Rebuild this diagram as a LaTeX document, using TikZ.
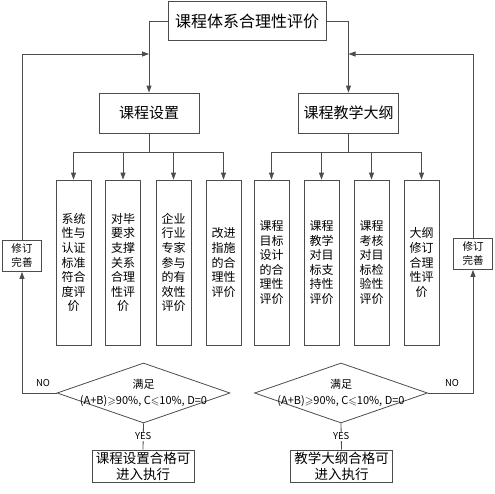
\documentclass[tikz,border=0pt]{standalone}
\usepackage{fontspec}
\usepackage{amssymb}
\newfontfamily\cjk{Noto Sans CJK SC}
\usetikzlibrary{positioning, arrows.meta, shapes.geometric}
\definecolor{linecol}{rgb}{0.30, 0.30, 0.30}
\tikzset{
  box/.style={rectangle, draw=linecol, line width=0.8pt, inner sep=0pt,
              align=center, text=black},
  main box/.style={box, minimum width=158pt, minimum height=39pt,
                   font=\cjk\fontsize{16}{19}\selectfont},
  sub box/.style={box, minimum width=100pt, minimum height=40pt,
                  font=\cjk\fontsize{15}{18}\selectfont},
  item box/.style={box, minimum width=35pt, minimum height=165pt,
                   font=\cjk\fontsize{12}{14.6}\selectfont},
  revise box/.style={box, minimum width=39pt, minimum height=31pt,
                     font=\cjk\fontsize{10.5}{14}\selectfont},
  done box/.style={box, minimum width=102pt, minimum height=32pt,
                   font=\cjk\fontsize{13.5}{16}\selectfont},
  check/.style={diamond, draw=linecol, line width=0.8pt, inner sep=0pt,
                minimum width=173pt, minimum height=60pt},
  cond text/.style={font=\cjk\fontsize{11}{16}\selectfont, align=center,
                    inner sep=0pt},
  tag/.style={font=\cjk\fontsize{9.5}{11}\selectfont, inner sep=1pt},
  line/.style={draw=linecol, line width=0.8pt},
  arr/.style={line, -{Triangle[length=7pt, width=5pt]}},
}
\begin{document}
\begin{tikzpicture}[x=1pt, y=-1pt]
    \useasboundingbox (0,0) rectangle (495,493);

    % top level
    \node[main box] (title) at (247,21) {课程体系合理性评价};
    \node[sub box] (sub_l) at (149,113) {课程设置};
    \node[sub box] (sub_r) at (348.5,113) {课程教学大纲};
    \draw[arr] (title.west) -| (sub_l.north);
    \draw[arr] (title.east) -| (sub_r.north);

    % items of the course setting
    \node[item box] (item_1) at (73.5,262.5) {系统\\性与\\认证\\标准\\符合\\度评\\价};
    \node[item box] (item_2) at (123,262.5) {对毕\\要求\\支撑\\关系\\合理\\性评\\价};
    \node[item box] (item_3) at (173.5,262.5) {企业\\行业\\专家\\参与\\的有\\效性\\评价};
    \node[item box] (item_4) at (223.5,262.5) {改进\\指施\\的合\\理性\\评价};

    % items of the syllabus
    \node[item box] (item_5) at (271.5,262.5) {课程\\目标\\设计\\的合\\理性\\评价};
    \node[item box] (item_6) at (321.5,262.5) {课程\\教学\\对目\\标支\\持性\\评价};
    \node[item box] (item_7) at (371.5,262.5) {课程\\考核\\对目\\标检\\验性\\评价};
    \node[item box] (item_8) at (421.5,262.5) {大纲\\修订\\合理\\性评\\价};

    % bus lines
    \coordinate (bus_l) at (149,152);
    \coordinate (bus_r) at (348.5,152);
    \draw[line] (sub_l.south) -- (bus_l);
    \draw[line] (sub_r.south) -- (bus_r);
    \draw[line] (item_1.north |- bus_l) -- (item_4.north |- bus_l);
    \draw[line] (item_5.north |- bus_r) -- (item_8.north |- bus_r);
    \draw[arr] (item_1.north |- bus_l) -- (item_1.north);
    \draw[arr] (item_2.north |- bus_l) -- (item_2.north);
    \draw[arr] (item_3.north |- bus_l) -- (item_3.north);
    \draw[arr] (item_4.north |- bus_l) -- (item_4.north);
    \draw[arr] (item_5.north |- bus_r) -- (item_5.north);
    \draw[arr] (item_6.north |- bus_r) -- (item_6.north);
    \draw[arr] (item_7.north |- bus_r) -- (item_7.north);
    \draw[arr] (item_8.north |- bus_r) -- (item_8.north);

    % checks
    \node[check] (chk_l) at (143.5,393) {};
    \node[cond text] (chk_l_txt) at (chk_l) {满足\\(A+B)$\geqslant$90\%, C$\leqslant$10\%, D=0};
    \node[check] (chk_r) at (341,393) {};
    \node[cond text] (chk_r_txt) at (chk_r) {满足\\(A+B)$\geqslant$90\%, C$\leqslant$10\%, D=0};

    % results
    \node[done box] (ok_l) at (143,466) {课程设置合格可\\进入执行};
    \node[done box] (ok_r) at (341.5,466) {教学大纲合格可\\进入执行};
    \draw[line] (chk_l.south) -- node[tag, fill=white] {YES} (ok_l.north);
    \draw[line] (chk_r.south) -- node[tag, fill=white] {YES} (ok_r.north);

    % revision loops
    \node[revise box] (rev_l) at (22,256) {修订\\完善};
    \node[revise box] (rev_r) at (473,254) {修订\\完善};
    \coordinate (fb_l) at (149,54);
    \coordinate (fb_r) at (348.5,54);
    \draw[arr] (chk_l.west) -| (rev_l.south);
    \draw[arr] (chk_r.east) -| (rev_r.south);
    \draw[arr] (rev_l.north) |- (fb_l);
    \draw[arr] (rev_r.north) |- (fb_r);
    \node[tag] at (43,383) {NO};
    \node[tag] at (452,383) {NO};
\end{tikzpicture}
\end{document}
